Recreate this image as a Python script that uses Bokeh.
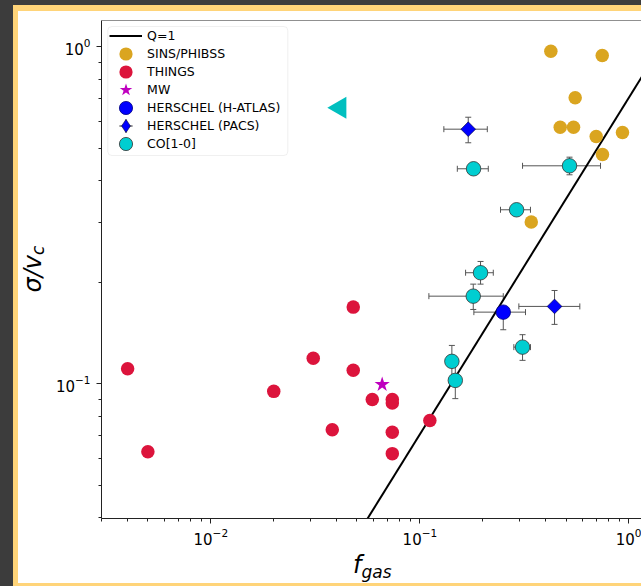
import math
from bokeh.plotting import figure
from bokeh.models import (ColumnDataSource, Whisker, TeeHead, Legend, LegendItem,
                          FixedTicker, Span, BoxAnnotation, LogAxis)
from bokeh.embed import file_html
from bokeh.resources import INLINE

# ---------------- data ----------------
q1_fgas = [0.05, 1.5]
q1_sigv = [0.0354, 1.061]

sins_fgas = [0.423, 0.745, 0.553, 0.469, 0.543, 0.697, 0.931, 0.747, 0.341]
sins_sigv = [0.970, 0.942, 0.706, 0.577, 0.577, 0.542, 0.557, 0.479, 0.302]

things_fgas = [0.0040, 0.0050, 0.0200, 0.0309, 0.0480, 0.0480, 0.0381,
               0.0592, 0.0738, 0.0738, 0.0738, 0.0738, 0.1116]
things_sigv = [0.1108, 0.0628, 0.0949, 0.1190, 0.1688, 0.1097, 0.0730,
               0.0898, 0.0897, 0.0877, 0.0718, 0.0620, 0.0778]

mw_fgas = [0.066]
mw_sigv = [0.0995]

hatlas_fgas = [0.2505]
hatlas_fgas_lo = [0.1812]
hatlas_fgas_hi = [0.320]
hatlas_sigv = [0.1631]
hatlas_sigv_lo = [0.1446]
hatlas_sigv_hi = [0.168]

pacs_fgas = [0.1703, 0.4406]
pacs_fgas_lo = [0.1302, 0.2974]
pacs_fgas_hi = [0.2101, 0.582]
pacs_sigv = [0.5695, 0.1696]
pacs_sigv_lo = [0.519, 0.150]
pacs_sigv_hi = [0.618, 0.1891]

co_fgas = [0.1806, 0.5196, 0.290, 0.195, 0.180, 0.3097, 0.1422, 0.1477]
co_fgas_lo = [0.151, 0.3097, 0.243, 0.1654, 0.1104, 0.2814, 0.1422, 0.1477]
co_fgas_hi = [0.2124, 0.731, 0.338, 0.2244, 0.2505, 0.338, 0.1422, 0.1477]
co_sigv = [0.4345, 0.4434, 0.3283, 0.2135, 0.1819, 0.1284, 0.1165, 0.1023]
co_sigv_lo = [0.418, 0.417, 0.322, 0.1975, 0.1661, 0.1173, 0.1044, 0.0903]
co_sigv_hi = [0.450, 0.4703, 0.335, 0.2306, 0.1975, 0.1398, 0.1299, 0.1157]

tri_fgas = [0.0415]
tri_sigv = [0.659]

x_range = (0.003, 1.148)
y_range = (0.0398, 1.197)
x_major = [0.01, 0.1, 1.0]
y_major = [0.1, 1.0]
x_minor = [m * 10.0 ** e for e in (-3, -2, -1) for m in range(2, 10)]
y_minor = [m * 10.0 ** e for e in (-2, -1) for m in range(2, 10)]

legend_labels = ["Q=1", "SINS/PHIBSS", "THINGS", "MW",
                 "HERSCHEL (H-ATLAS)", "HERSCHEL (PACS)", "CO[1-0]"]

# axis titles (mathtext-like: main part + subscript), placed along the axes
xlabel_main, xlabel_main_at = "f", 0.0501
xlabel_sub, xlabel_sub_at = "gas", 0.0620
ylabel_main, ylabel_main_at = "\u03c3/v", 0.2121
ylabel_sub, ylabel_sub_at = "c", 0.2489

FONT = "DejaVu Sans"
AX = "#222222"
DARK = "#3c3c3c"
YEL = "#ffd479"

p = figure(width=641, height=586, x_axis_type="log", y_axis_type="log",
           x_range=x_range, y_range=y_range, output_backend="svg",
           toolbar_location=None, min_border_left=101, min_border_right=0,
           min_border_top=20, min_border_bottom=68)
p.xgrid.visible = False
p.ygrid.visible = False
p.outline_line_color = None
p.background_fill_color = "white"
p.border_fill_alpha = 0
# screenshot window frame (dark + yellow edges) behind the transparent border
p.styles = {
    "background-color": "white",
    "background-image": (
        f"linear-gradient(to right, {DARK} 13px, transparent 13px), "
        f"linear-gradient(to bottom, {DARK} 5px, transparent 5px), "
        f"linear-gradient(to right, {YEL} 18.5px, transparent 18.5px), "
        f"linear-gradient(to bottom, {YEL} 10.5px, transparent 10.5px), "
        f"linear-gradient(to top, {YEL} 3px, transparent 3px)"
    ),
}

p.xaxis.ticker = FixedTicker(ticks=x_major, minor_ticks=x_minor)
p.yaxis.ticker = FixedTicker(ticks=y_major, minor_ticks=y_minor)
for ax in (p.xaxis[0], p.yaxis[0]):
    ax.axis_line_color = AX
    ax.axis_line_width = 1
    ax.major_tick_line_color = AX
    ax.minor_tick_line_color = AX
    ax.major_tick_in = 0
    ax.major_tick_out = 5
    ax.minor_tick_in = 0
    ax.minor_tick_out = 3
    ax.major_label_text_font = FONT
    ax.major_label_text_font_size = "15px"
    ax.major_label_text_color = "#000000"
p.xaxis.major_label_standoff = 4
p.yaxis.major_label_standoff = 6


def text_axis(side, at, text, size, standoff, orient="horizontal"):
    ax = LogAxis(ticker=FixedTicker(ticks=[at], minor_ticks=[]),
                 major_label_overrides={at: text},
                 axis_line_color=None, major_tick_line_color=None,
                 minor_tick_line_color=None, major_tick_in=0, major_tick_out=0,
                 minor_tick_in=0, minor_tick_out=0, major_label_standoff=standoff,
                 major_label_text_font=FONT, major_label_text_font_style="italic",
                 major_label_text_font_size=size, major_label_text_color="#000000",
                 major_label_orientation=orient)
    p.add_layout(ax, side)

text_axis("below", xlabel_main_at, xlabel_main, "24px", 3)
text_axis("below", xlabel_sub_at, xlabel_sub, "17px", -20)
text_axis("left", ylabel_main_at, ylabel_main, "24px", 5, "parallel")
text_axis("left", ylabel_sub_at, ylabel_sub, "17px", -32, "parallel")

# top spine
p.add_layout(Span(location=y_range[1], dimension="width", line_color=AX, line_width=1))

# Q=1 line
q1 = p.line(q1_fgas, q1_sigv, line_color="black", line_width=2)

# error bars
ECOL = "#555555"
def add_err(src):
    for dim, base, lo, hi in (("width", "y", "xl", "xh"), ("height", "x", "yl", "yh")):
        w = Whisker(source=src, base=base, lower=lo, upper=hi, dimension=dim,
                    line_color=ECOL, line_width=1, level="underlay",
                    upper_head=TeeHead(size=6, line_color=ECOL, line_width=1),
                    lower_head=TeeHead(size=6, line_color=ECOL, line_width=1))
        p.add_layout(w)

hatlas_src = ColumnDataSource(dict(x=hatlas_fgas, xl=hatlas_fgas_lo, xh=hatlas_fgas_hi,
                                   y=hatlas_sigv, yl=hatlas_sigv_lo, yh=hatlas_sigv_hi))
pacs_src = ColumnDataSource(dict(x=pacs_fgas, xl=pacs_fgas_lo, xh=pacs_fgas_hi,
                                 y=pacs_sigv, yl=pacs_sigv_lo, yh=pacs_sigv_hi))
co_src = ColumnDataSource(dict(x=co_fgas, xl=co_fgas_lo, xh=co_fgas_hi,
                               y=co_sigv, yl=co_sigv_lo, yh=co_sigv_hi))
for s in (hatlas_src, pacs_src, co_src):
    add_err(s)

sins = p.scatter(sins_fgas, sins_sigv, size=13.5, fill_color="#daa520", line_color=None)
things = p.scatter(things_fgas, things_sigv, size=13.5, fill_color="#dc143c", line_color=None)
mw = p.scatter(mw_fgas, mw_sigv, marker="star", size=16, fill_color="#bf00bf", line_color=None)
tri = p.scatter(tri_fgas, tri_sigv, marker="triangle", angle=math.pi / 2, size=22,
                fill_color="#00bfbf", line_color=None)
hatlas = p.scatter("x", "y", source=hatlas_src, size=14.5, fill_color="#0000ff",
                   line_color="#000080", line_width=0.8)
# legend-only helpers for the PACS entry (hidden under the plotted diamonds)
pacs_cross = p.scatter("x", "y", source=pacs_src, marker="cross", size=6,
                       line_color="#222222", line_width=1)
pacs_leg = p.scatter("x", "y", source=pacs_src, marker="diamond", size=6,
                     fill_color="#0000ff", line_color="#000033", line_width=0.6)
pacs = p.scatter("x", "y", source=pacs_src, marker="square", angle=math.pi / 4, size=10.4,
                 fill_color="#0000ff", line_color="#000033", line_width=0.6)
co = p.scatter("x", "y", source=co_src, size=14.5, fill_color="#00ced1",
               line_color="#333333", line_width=0.8)

# legend frame
lbox = BoxAnnotation(left=6.3, right=186.3, bottom=363, top=492,
                     left_units="screen", right_units="screen",
                     bottom_units="screen", top_units="screen",
                     fill_color="white", fill_alpha=0.8,
                     line_color="#cccccc", line_width=1, level="annotation")
if "border_radius" in BoxAnnotation.properties():
    lbox.border_radius = 4
p.add_layout(lbox)

leg_renderers = [[q1], [sins], [things], [mw], [hatlas], [pacs_cross, pacs_leg], [co]]
for k, (lab, rends) in enumerate(zip(legend_labels, leg_renderers)):
    lg = Legend(items=[LegendItem(label=lab, renderers=rends)],
                location=(8.1, 466.5 - 18.05 * k),
                glyph_width=33, glyph_height=33, label_height=33, spacing=0,
                padding=0, margin=0, label_standoff=5,
                label_text_font=FONT, label_text_font_size="12.5px",
                label_text_color="#000000",
                border_line_color=None, background_fill_alpha=0)
    p.add_layout(lg)

open("out.html", "w").write(file_html(p, INLINE))
